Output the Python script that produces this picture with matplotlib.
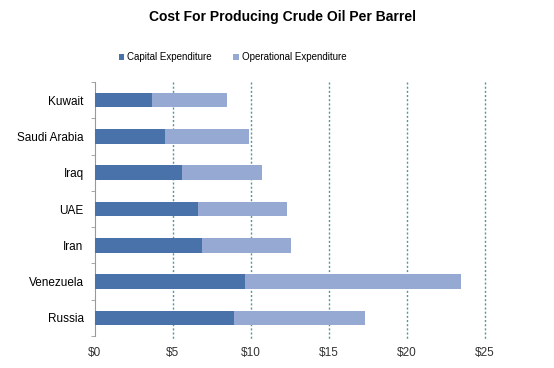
import numpy as np
import matplotlib
matplotlib.use('Agg')
import matplotlib.pyplot as plt

plt.rcParams['font.family'] = ['Liberation Sans', 'DejaVu Sans']

countries = ['Kuwait', 'Saudi Arabia', 'Iraq', 'UAE', 'Iran', 'Venezuela', 'Russia']
capex = [3.7, 4.5, 5.6, 6.6, 6.9, 9.6, 8.9]
opex = [4.8, 5.4, 5.1, 5.7, 5.7, 13.9, 8.4]
xticks = [0, 5, 10, 15, 20, 25]
xtick_labels = ['$0', '$5', '$10', '$15', '$20', '$25']

capex_color = '#4a72aa'
opex_color = '#95a9d3'
grid_color = '#4f97a3'

fig = plt.figure(figsize=(5.54, 3.68), dpi=100)
ax = fig.add_axes([0.171, 0.087, 0.7125, 0.69])

y = np.arange(len(countries))
ax.barh(y, capex, height=0.4, color=capex_color, label='Capital Expenditure', zorder=3)
ax.barh(y, opex, left=capex, height=0.4, color=opex_color, label='Operational Expenditure', zorder=3)

ax.set_ylim(len(countries) - 0.5, -0.5)
ax.set_xlim(0, 25.3)

ax.set_yticks(y)
ax.set_yticklabels(countries, fontsize=8.5)
ax.set_yticks(np.arange(len(countries) + 1) - 0.5, minor=True)
ax.tick_params(axis='y', which='major', length=0, pad=8)
ax.tick_params(axis='y', which='minor', length=3, color='#999999', direction='out')

ax.set_xticks(xticks)
ax.set_xticklabels(xtick_labels, fontsize=8.5, color='#333333')
ax.tick_params(axis='x', length=0, pad=8)

for v in xticks[1:]:
    ax.plot([v, v], [-0.5, 6.6], color=grid_color, linestyle=(0, (1.5, 1.5)),
            linewidth=1.0, zorder=1, clip_on=False)

for s in ['top', 'right', 'bottom']:
    ax.spines[s].set_visible(False)
ax.spines['left'].set_color('#999999')
ax.spines['left'].set_linewidth(0.8)

fig.text(0.51, 0.955, 'Cost For Producing Crude Oil Per Barrel', ha='center', va='center',
         fontsize=10, fontweight='bold')

fig.legend(loc='center', bbox_to_anchor=(0.42, 0.845), ncol=2, frameon=False,
           fontsize=7, handlelength=0.6, handleheight=0.6, handletextpad=0.3,
           columnspacing=2.2)

fig.savefig('out.png', dpi=100)
